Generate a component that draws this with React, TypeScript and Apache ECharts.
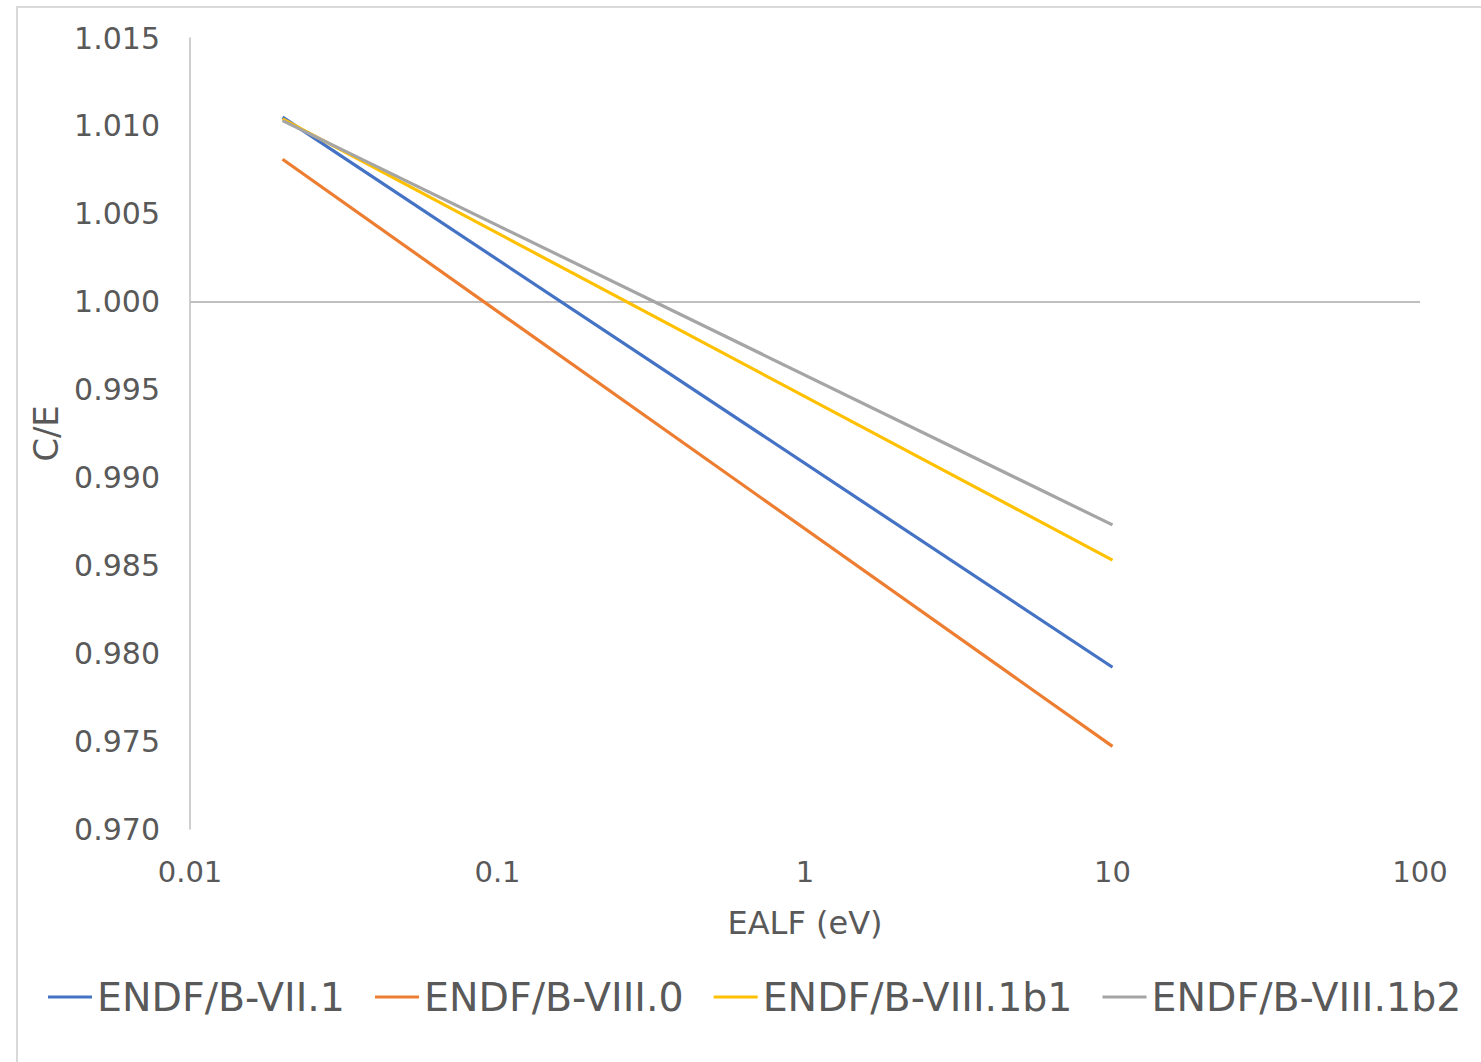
import React, { useEffect, useRef } from "react";
import * as echarts from "echarts";

const xValues = [0.02, 10];
const seriesNames = ["ENDF/B-VII.1", "ENDF/B-VIII.0", "ENDF/B-VIII.1b1", "ENDF/B-VIII.1b2"];
const endf71 = [1.0105, 0.9792];
const endf80 = [1.0081, 0.9747];
const endf81b1 = [1.0104, 0.9853];
const endf81b2 = [1.0103, 0.9873];
const seriesColors = ["#4472C4", "#ED7D31", "#FFC000", "#A5A5A5"];
const xTicks = [0.01, 0.1, 1, 10, 100];

const FONT = "DejaVu Sans";
const TEXT = "#595959";

export default function App() {
  const ref = useRef<HTMLDivElement>(null);
  useEffect(() => {
    document.body.style.margin = "0";
    const chart = echarts.init(ref.current!, null, { renderer: "svg" });
    const allValues = [endf71, endf80, endf81b1, endf81b2];
    const series: any[] = allValues.map((vals, i) => ({
      name: seriesNames[i],
      type: "line",
      symbol: "none",
      data: xValues.map((x, j) => [x, vals[j]]),
      lineStyle: { color: seriesColors[i], width: 3.2 },
      itemStyle: { color: seriesColors[i] },
      z: 3,
    }));
    series[0].markLine = {
      silent: true,
      symbol: ["none", "none"],
      label: { show: false },
      lineStyle: { color: "#bfbfbf", width: 2, type: "solid" },
      emphasis: { disabled: true },
      data: [{ yAxis: 1 }],
      z: 1,
    };
    chart.setOption({
      animation: false,
      backgroundColor: "#ffffff",
      textStyle: { fontFamily: FONT },
      graphic: [
        {
          type: "rect",
          shape: { x: 17, y: 7, width: 1520, height: 1100 },
          style: { fill: "none", stroke: "#d9d9d9", lineWidth: 2 },
          silent: true,
        },
      ],
      grid: { left: 190, right: 61, top: 38, bottom: 233, containLabel: false },
      legend: {
        left: 48,
        top: 977,
        padding: 0,
        itemWidth: 44,
        itemHeight: 14,
        itemGap: 30,
        icon: "path://M0,5.5 L44,5.5 L44,8.5 L0,8.5 Z",
        textStyle: { fontFamily: FONT, fontSize: 39.5, color: TEXT },
        data: seriesNames.map((n, i) => ({ name: n, itemStyle: { color: seriesColors[i] } })),
      },
      xAxis: {
        type: "log",
        logBase: 10,
        min: 0.01,
        max: 100,
        name: "EALF (eV)",
        nameLocation: "middle",
        nameGap: 78,
        nameTextStyle: { fontFamily: FONT, fontSize: 32, color: TEXT },
        axisLine: { show: false },
        axisTick: { show: false },
        splitLine: { show: false },
        axisLabel: {
          fontFamily: FONT,
          fontSize: 29,
          color: TEXT,
          margin: 28,
          formatter: (v: number) => {
            const t = xTicks.find((k) => Math.abs(Math.log10(k) - Math.log10(v)) < 1e-6);
            return t !== undefined ? String(t) : "";
          },
        },
      },
      yAxis: {
        type: "value",
        min: 0.97,
        max: 1.015,
        interval: 0.005,
        name: "C/E",
        nameLocation: "middle",
        nameGap: 124,
        nameRotate: 90,
        nameTextStyle: { fontFamily: FONT, fontSize: 34, color: TEXT },
        axisLine: { show: true, lineStyle: { color: "#bfbfbf", width: 1.5 } },
        axisTick: { show: false },
        splitLine: { show: false },
        axisLabel: {
          fontFamily: FONT,
          fontSize: 30,
          color: TEXT,
          margin: 30,
          formatter: (v: number) => v.toFixed(3),
        },
      },
      series,
    });
    return () => chart.dispose();
  }, []);
  return <div ref={ref} style={{ width: 1481, height: 1062 }} />;
}
